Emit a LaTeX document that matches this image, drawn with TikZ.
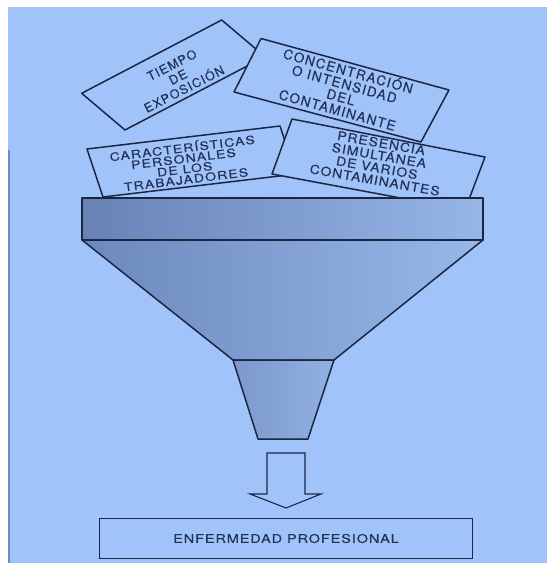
\documentclass[tikz,border=0pt]{standalone}
\usepackage{fontspec}
\setmainfont{TeX Gyre Heros}
\newfontfamily\tfont{TeX Gyre Heros}[LetterSpace=9,FakeBold=0.3]
\newfontfamily\cfont{TeX Gyre Heros}[LetterSpace=9.5,FakeBold=0.3]
\newfontfamily\kfont{TeX Gyre Heros}[LetterSpace=10,FakeStretch=1.22,FakeBold=0.3]
\newfontfamily\pfont{TeX Gyre Heros}[LetterSpace=8,FakeStretch=1.12,FakeBold=0.3]
\newfontfamily\enffont{TeX Gyre Heros}[LetterSpace=8,FakeStretch=1.2,FakeBold=0.3]
\definecolor{bgC}{RGB}{160,196,250}
\definecolor{edgeC}{RGB}{110,140,190}
\definecolor{lineC}{RGB}{28,38,66}
\definecolor{txtC}{RGB}{36,50,88}
\definecolor{rimL}{RGB}{104,130,182}
\definecolor{rimR}{RGB}{150,182,232}
\definecolor{coneL}{RGB}{108,136,188}
\definecolor{coneR}{RGB}{152,184,234}
\definecolor{spoutL}{RGB}{124,152,204}
\definecolor{spoutR}{RGB}{146,176,226}
\tikzset{
  card/.style={draw=lineC, fill=bgC, line width=1.5pt, line join=round},
  cardtext/.style={text=txtC, align=center, inner sep=0pt},
  funnelpart/.style={draw=lineC, line width=1.5pt, line join=round},
  blockarrow/.style={draw=lineC, fill=bgC, line width=1.1pt, line join=miter},
  resultbox/.style={draw=lineC, fill=bgC, line width=1.5pt, text=txtC,
    font=\enffont\fontsize{12}{14}\selectfont, inner sep=0pt}
}
\begin{document}
\begin{tikzpicture}[x=1pt,y=-1pt]
\useasboundingbox (0,0) rectangle (547,563);
\fill[white] (0,0) rectangle (547,563);
\fill[bgC] (8,7) rectangle (547,563);
\draw[edgeC, line width=1.2pt] (9,150) -- (9,563);

% TIEMPO DE EXPOSICION
\coordinate (t1) at (81.7,93.3);
\coordinate (t2) at (221.7,20);
\coordinate (t3) at (265,56.7);
\coordinate (t4) at (125,130);
\draw[card] (t1) -- (t2) -- (t3) -- (t4) -- cycle;
\node[cardtext, rotate=27, font=\tfont\fontsize{12.5}{13.5}\selectfont] (tiempo) at (178,77) {TIEMPO\\DE\\EXPOSICIÓN};

% CONCENTRACION
\coordinate (c1) at (261,38.5);
\coordinate (c2) at (449,90);
\coordinate (c3) at (421,142);
\coordinate (c4) at (234,92);
\draw[card] (c1) -- (c2) -- (c3) -- (c4) -- cycle;
\node[cardtext, rotate=-15.5, font=\cfont\fontsize{13.5}{13.5}\selectfont] (conc) at (343,89.5) {CONCENTRACIÓN\\O INTENSIDAD\\DEL\\CONTAMINANTE};

% CARACTERISTICAS
\coordinate (k1) at (87,149);
\coordinate (k2) at (280,126);
\coordinate (k3) at (296,174);
\coordinate (k4) at (103,197);
\draw[card] (k1) -- (k2) -- (k3) -- (k4) -- cycle;
\node[cardtext, rotate=7, font=\kfont\fontsize{11.5}{10.5}\selectfont] (carac) at (184,163) {CARACTERÍSTICAS\\PERSONALES\\DE LOS\\TRABAJADORES};

% PRESENCIA
\coordinate (p1) at (292,119);
\coordinate (p2) at (485,157);
\coordinate (p3) at (465,210);
\coordinate (p4) at (272,174);
\draw[card] (p1) -- (p2) -- (p3) -- (p4) -- cycle;
\node[cardtext, rotate=-10, font=\pfont\fontsize{12.5}{12.5}\selectfont] (pres) at (378,161.5) {PRESENCIA\\SIMULTÁNEA\\DE VARIOS\\CONTAMINANTES};

% funnel
\coordinate (r1) at (82,198);
\coordinate (r2) at (483,198);
\coordinate (r3) at (483,240);
\coordinate (r4) at (82,240);
\coordinate (cb1) at (233,360);
\coordinate (cb2) at (334,360);
\coordinate (s1) at (258,439);
\coordinate (s2) at (308,439);
\draw[funnelpart, left color=coneL, right color=coneR] (r4) -- (r3) -- (cb2) -- (cb1) -- cycle;
\draw[funnelpart, left color=spoutL, right color=spoutR] (cb1) -- (cb2) -- (s2) -- (s1) -- cycle;
\draw[funnelpart, left color=rimL, right color=rimR] (r1) -- (r2) -- (r3) -- (r4) -- cycle;

% block arrow
\coordinate (a1) at (267,453);
\coordinate (a2) at (305,453);
\coordinate (a3) at (305,494);
\coordinate (a4) at (321,494);
\coordinate (a5) at (286,508);
\coordinate (a6) at (250,494);
\coordinate (a7) at (267,494);
\draw[blockarrow] (a1) -- (a2) -- (a3) -- (a4) -- (a5) -- (a6) -- (a7) -- cycle;

% result
\node[resultbox, minimum width=373pt, minimum height=40pt] (enf) at (286,538.5) {ENFERMEDAD PROFESIONAL};
\end{tikzpicture}
\end{document}
